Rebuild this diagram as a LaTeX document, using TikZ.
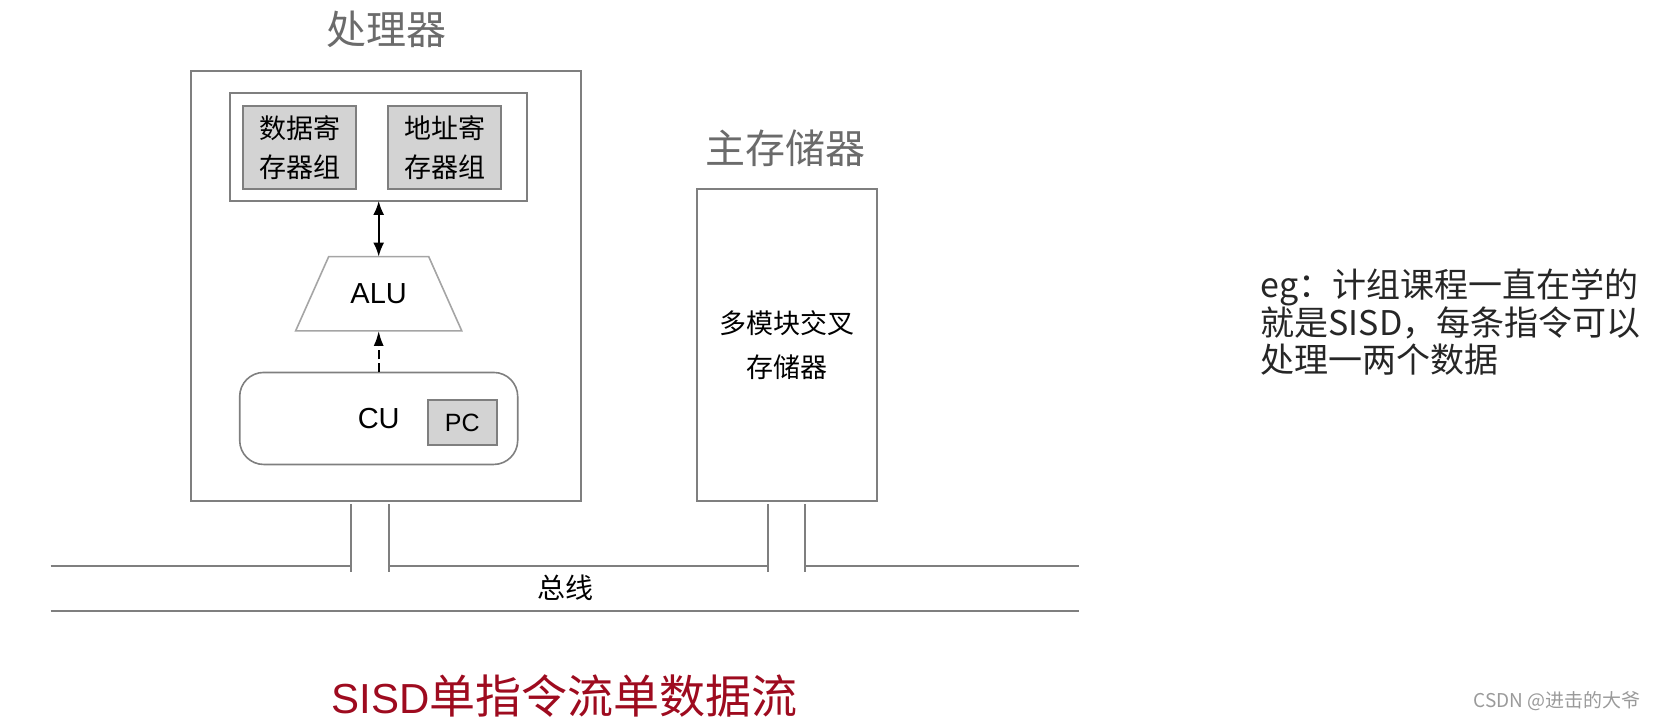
\documentclass[tikz,border=0pt]{standalone}
\usepackage{fontspec}
\setmainfont{Liberation Sans}
\newfontfamily\cjk{Noto Sans CJK SC}
\usetikzlibrary{shapes.geometric,arrows.meta,positioning}

\definecolor{boxgray}{HTML}{7F7F7F}
\definecolor{reggray}{HTML}{D3D3D3}
\definecolor{titlegray}{HTML}{6B6B6B}
\definecolor{sisdred}{HTML}{9E0B1F}
\definecolor{markgray}{HTML}{9A9A9A}

\tikzset{
  unitbox/.style={draw=boxgray, line width=2pt, inner sep=0pt, outer sep=0pt},
  regbox/.style={unitbox, fill=reggray, minimum width=113pt, minimum height=83pt,
    align=center, font=\cjk\fontsize{27}{39}\selectfont},
  alubox/.style={trapezium, trapezium left angle=66, trapezium right angle=66,
    draw=boxgray!70, line width=1.6pt, outer sep=0pt,
    inner xsep=21.8pt, inner ysep=27pt, font=\fontsize{29}{30}\selectfont},
  cubox/.style={unitbox, line width=1.6pt, rounded corners=24pt, minimum width=278pt,
    minimum height=92pt, font=\fontsize{29}{30}\selectfont},
  pcbox/.style={unitbox, fill=reggray, minimum width=69pt, minimum height=45pt,
    font=\fontsize{25}{26}\selectfont},
  title/.style={text=titlegray, font=\cjk\fontsize{40}{42}\selectfont},
  duplex/.style={line width=2pt, {Latex[length=14pt,width=11pt]}-{Latex[length=14pt,width=11pt]}},
  ctrl/.style={line width=2pt, dash pattern=on 9pt off 4pt, -{Latex[length=15pt,width=10pt]}},
  busline/.style={draw=boxgray, line width=2pt},
}

\begin{document}
\begin{tikzpicture}[x=1pt,y=-1pt]
  \useasboundingbox (0,0) rectangle (1658,720);

  % Define nodes
  \node[unitbox, minimum width=390pt, minimum height=430pt]  (cpu) at (385.7,285.7) {};
  \node[title]                                 (cpu_t) at (386,29) {处理器};
  \node[unitbox, minimum width=297pt, minimum height=108pt]  (regs) at (378.7,146.9) {};
  \node[regbox]                                (dreg) at (299.7,147.5) {数据寄\\存器组};
  \node[regbox, right=32pt of dreg]            (areg) {地址寄\\存器组};
  \node[alubox, below=55.7pt of regs]          (alu) {ALU};
  \node[cubox, below=41.6pt of alu]            (cu) {CU};
  \node[pcbox, left=21pt of cu.east, yshift=-4pt]  (pc) {PC};

  \node[unitbox, minimum width=180pt, minimum height=312pt, align=center,
        font=\cjk\fontsize{27}{44}\selectfont]  (mem) at (786.9,344.9) {多模块交叉\\存储器};
  \node[title]                                 (mem_t) at (785.5,148) {主存储器};

  \node[font=\cjk\fontsize{28}{30}\selectfont]  (bus_t) at (565,588) {总线};
  \node[text=sisdred]                          (sisd) at (564.5,696)
       {{\fontsize{42}{46}\selectfont SISD}{\cjk\fontsize{46}{50}\selectfont 单指令流单数据流}};
  \node[anchor=west, align=left, text=black!85, font=\cjk\fontsize{34}{36.6}\selectfont]
       (note) at (1257,321.7) {eg：计组课程一直在学的\\就是SISD，每条指令可以\\处理一两个数据};
  \node[text=markgray, font=\cjk\fontsize{19}{20}\selectfont]  (mark) at (1557,701.5) {CSDN @进击的大爷};

  % Bus points
  \coordinate (busTL) at (50.7,566);
  \coordinate (busTR) at (1079,566);
  \coordinate (busBL) at (50.7,610.7);
  \coordinate (busBR) at (1079,610.7);
  \coordinate (stubB) at (0,571.5);
  \coordinate (cpuLa) at (350.6,504);
  \coordinate (cpuRa) at (388.9,504);
  \coordinate (memLa) at (768,504);
  \coordinate (memRa) at (804.7,504);

  % Connect the nodes
  \draw[duplex] (regs.south) -- (alu.north);
  \draw[ctrl] (cu.north) -- (alu.south);

  \draw[busline] (busTL) -- (busTL -| cpuLa);
  \draw[busline] (busTL -| cpuRa) -- (busTL -| memLa);
  \draw[busline] (busTL -| memRa) -- (busTR);
  \draw[busline] (busBL) -- (busBR);
  \draw[busline] (cpuLa) -- (cpuLa |- stubB);
  \draw[busline] (cpuRa) -- (cpuRa |- stubB);
  \draw[busline] (memLa) -- (memLa |- stubB);
  \draw[busline] (memRa) -- (memRa |- stubB);

\end{tikzpicture}
\end{document}
